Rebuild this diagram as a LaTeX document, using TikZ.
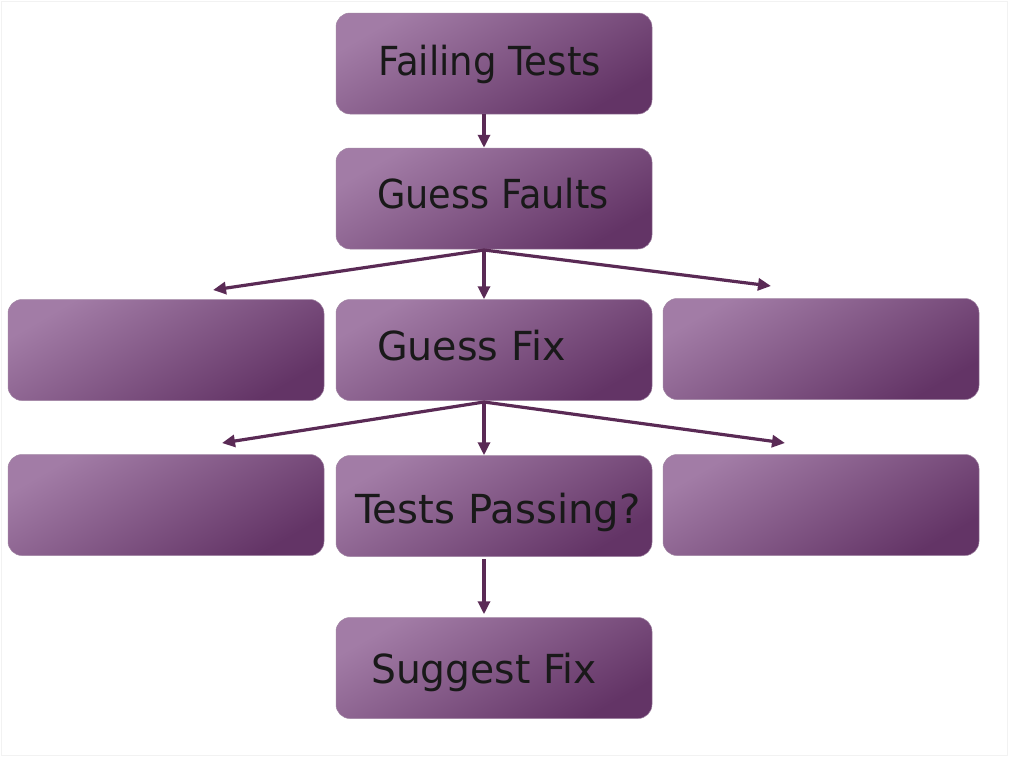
\documentclass[tikz,border=0pt]{standalone}
\usepackage{fontspec}
\setmainfont{DejaVu Sans}
\usetikzlibrary{arrows.meta,calc}
\definecolor{boxlight}{HTML}{A27CA6}
\definecolor{boxdark}{HTML}{633466}
\definecolor{arrowc}{HTML}{5A2A55}
\definecolor{frame}{HTML}{F2F2F2}
\tikzset{
  box/.style={rounded corners=14pt, minimum width=316pt, minimum height=101pt, inner sep=0pt,
    top color=boxlight, bottom color=boxdark, shading angle=30, draw=boxdark!60, line width=0.5pt},
  lbl/.style={anchor=base west, inner sep=0pt, font=\fontsize{40}{46}\selectfont, text=black!90, transform shape},
  arr/.style={draw=arrowc, line width=3.2pt, -{Triangle[length=13pt,width=12pt]}}
}
\begin{document}
\begin{tikzpicture}[x=1pt,y=-1pt]
\useasboundingbox (0,0) rectangle (1010,761);
\draw[frame, line width=1pt] (1,1) rectangle (1007,755);
% boxes
\node[box] (fail) at (494,63.5) {};
\node[box] (gfa) at (494,198.5) {};
\node[box] (l1) at (166,350) {};
\node[box] (gfx) at (494,350) {};
\node[box] (r1) at (821,349) {};
\node[box] (l2) at (166,505) {};
\node[box] (tp) at (494,506) {};
\node[box] (r2) at (821,505) {};
\node[box] (sf) at (494,668) {};
% labels
\node[lbl, xscale=0.927] (tfail) at (378,75) {Failing Tests};
\node[lbl, xscale=0.917] (tgfa) at (377,208) {Guess Faults};
\node[lbl, xscale=0.99] (tgfx) at (377,360) {Guess Fix};
\node[lbl, xscale=1.005] (ttp) at (355,523) {Tests Passing?};
\node[lbl, xscale=0.98] (tsf) at (371,683) {Suggest Fix};
% connectors
\coordinate (f1) at (484,114);
\coordinate (g1) at (484,250);
\coordinate (x1) at (484,402);
\coordinate (t1) at (484,559);
\draw[arr] (f1) -- (gfa.north -| f1);
\draw[arr] (g1) -- (213,290);
\draw[arr] (g1) -- (gfx.north -| g1);
\draw[arr] (g1) -- (771,286);
\draw[arr] (x1) -- (222,443);
\draw[arr] (x1) -- (tp.north -| x1);
\draw[arr] (x1) -- (785,443);
\draw[arr] (t1) -- ($(sf.north -| t1)+(0,-3)$);
\end{tikzpicture}
\end{document}
